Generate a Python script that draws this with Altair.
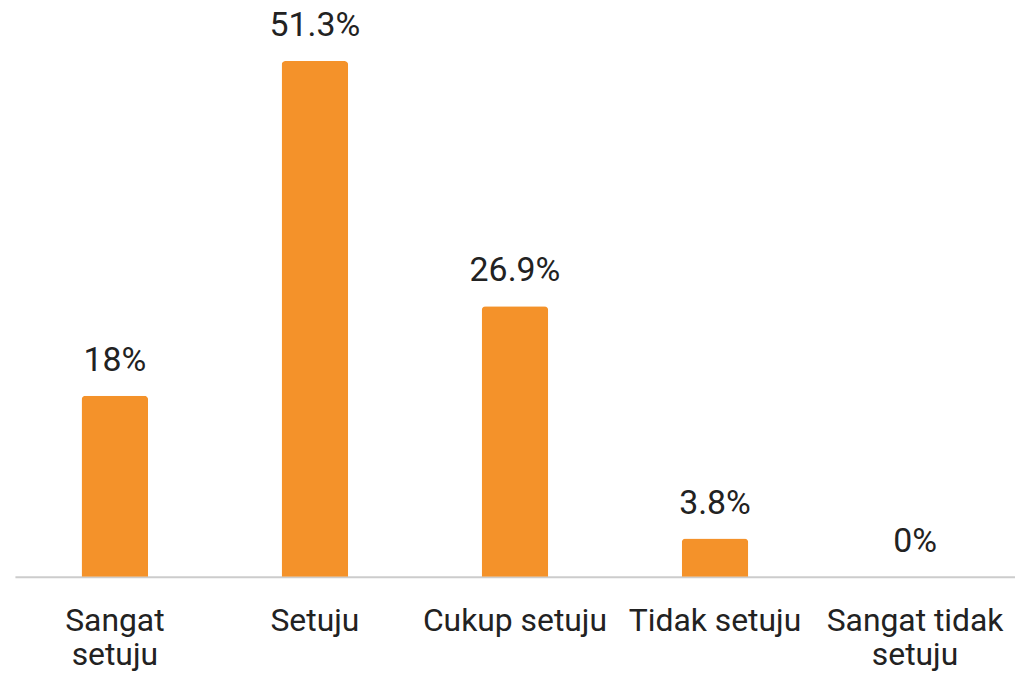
import altair as alt
import pandas as pd

categories = ["Sangat setuju", "Setuju", "Cukup setuju", "Tidak setuju", "Sangat tidak setuju"]
values = [18, 51.3, 26.9, 3.8, 0]
value_labels = ["18%", "51.3%", "26.9%", "3.8%", "0%"]
axis_labels = ["Sangat|setuju", "Setuju", "Cukup setuju", "Tidak setuju", "Sangat tidak|setuju"]

df = pd.DataFrame({"cat": categories, "val": values, "lab": value_labels, "axl": axis_labels})

label_map = "{" + ",".join(f"'{c}': '{a}'" for c, a in zip(categories, axis_labels)) + "}"

x = alt.X("cat:N", sort=categories, title=None,
          scale=alt.Scale(paddingInner=0.667, paddingOuter=0.333),
          axis=alt.Axis(labelAngle=0, labelFont="Roboto", labelFontSize=32, labelColor="#222222",
                        labelPadding=29, labelLineHeight=34, ticks=False, domainColor="#cccccc",
                        domainWidth=2, labelBaseline="top", labelOverlap=False, labelLimit=400,
                        labelExpr="split(" + label_map + "[datum.value], '|')"))
y = alt.Y("val:Q", scale=alt.Scale(domain=[0, 57.2], nice=False), axis=None)

bars = alt.Chart(df).mark_bar(color="#F4922A", cornerRadiusTopLeft=4, cornerRadiusTopRight=4).encode(x=x, y=y)
text = alt.Chart(df).mark_text(font="Roboto", fontSize=34, color="#222222", baseline="alphabetic", dy=-25).encode(
    x=alt.X("cat:N", sort=categories), y="val:Q", text="lab:N")

chart = (bars + text).properties(
    width=1005, height=578,
    autosize=alt.AutoSizeParams(type="none"),
    padding={"left": 15, "top": 0, "right": 0, "bottom": 95},
).configure_view(stroke=None)

chart.save("out.html", embed_options={"renderer": "svg", "actions": False})
